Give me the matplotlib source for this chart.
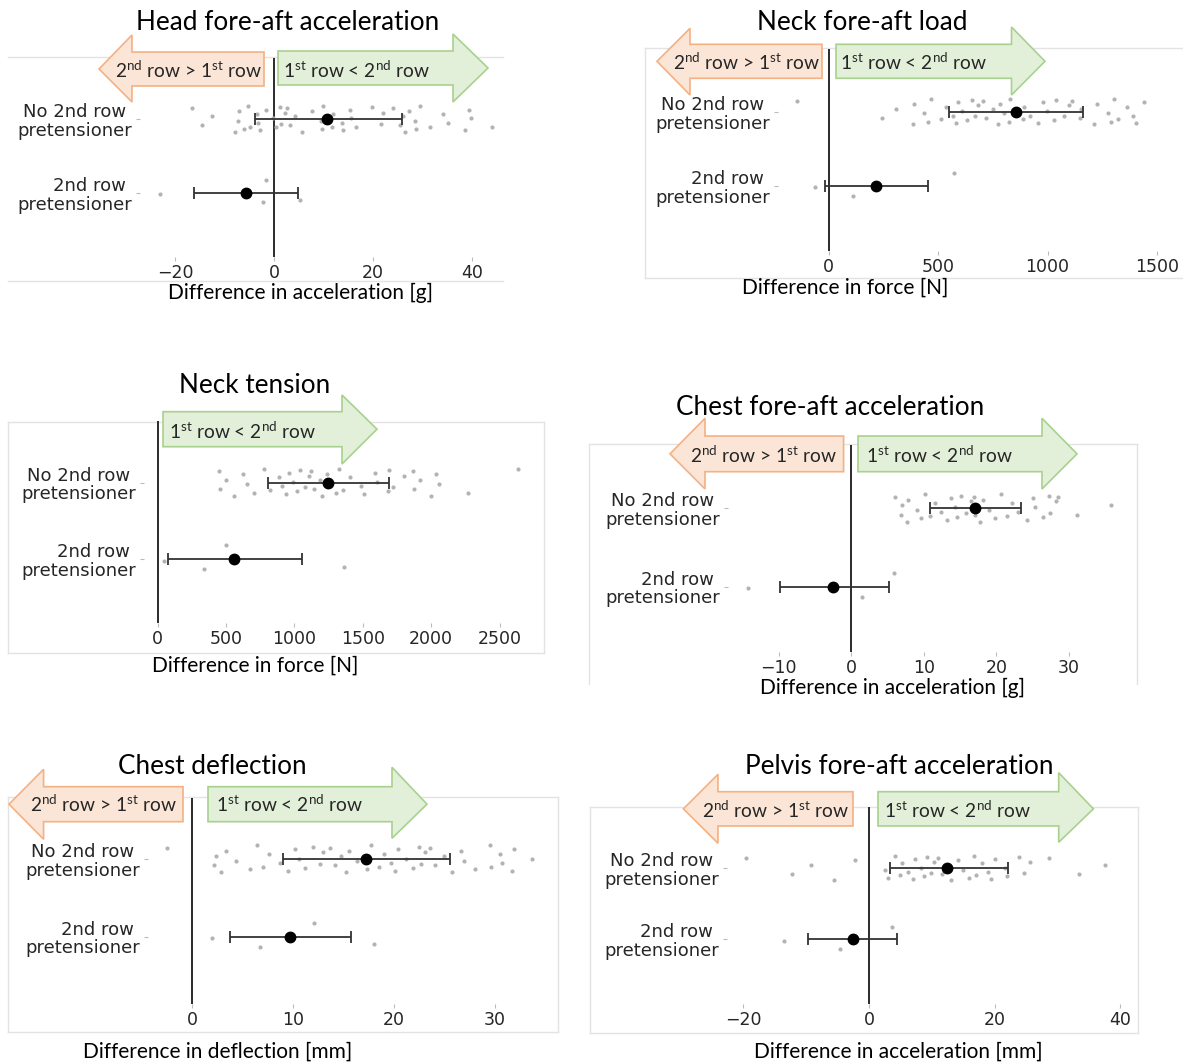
import numpy as np
import matplotlib.pyplot as plt
from matplotlib.patches import Polygon
from matplotlib.lines import Line2D

plt.rcParams['font.family'] = 'DejaVu Sans'
plt.rcParams['mathtext.fontset'] = 'custom'
plt.rcParams['mathtext.rm'] = 'Lato'
plt.rcParams['mathtext.it'] = 'Lato:italic'
plt.rcParams['mathtext.bf'] = 'Lato:bold'

W, H = 1183, 1064
groups = ['No 2nd row \npretensioner', '2nd row \npretensioner']

# head fore-aft acceleration [g]
head_no = [-16.6, -14.5, -12.5, -7.8, -7.1, -7.3, -6.0, -5.2, -4.8, -3.5, -3.3, -2.8,
           -1.7, -0.3, 0.4, 1.2, 1.5, 2.2, 2.7, 3.2, 4.2, 5.6, 7.7, 9.6, 9.8, 10.0,
           11.7, 12.0, 13.7, 14.0, 15.4, 15.5, 16.5, 19.9, 21.7, 22.0, 24.1, 25.5,
           26.1, 26.5, 27.3, 28.5, 28.7, 29.5, 31.5, 34.2, 35.2, 38.6, 39.4, 39.9, 44.0]
head_pre = [-23.0, -2.2, -1.6, 5.3]
head_mean = [10.7, -5.7]
head_ci = [(-3.9, 25.9), (-16.1, 4.9)]

# neck fore-aft load [N]
shear_no = [-146, 246, 309, 388, 390, 436, 456, 467, 515, 538, 570, 580, 591, 610, 633,
            657, 670, 681, 705, 720, 752, 775, 784, 800, 826, 831, 886, 893, 918, 957,
            981, 997, 1030, 1037, 1076, 1100, 1114, 1147, 1155, 1211, 1226, 1274, 1290,
            1305, 1321, 1365, 1392, 1403, 1440]
shear_pre = [-62, 112, 575]
shear_mean = [855, 217]
shear_ci = [(551, 1163), (-15, 456)]

# neck tension [N]
tens_no = [446, 454, 499, 559, 624, 650, 702, 781, 820, 885, 911, 937, 963, 990, 1016,
           1042, 1081, 1107, 1120, 1146, 1185, 1198, 1237, 1264, 1303, 1329, 1355, 1407,
           1485, 1511, 1590, 1603, 1681, 1690, 1721, 1799, 1864, 1877, 1916, 1995, 2034,
           2055, 2269, 2634]
tens_pre = [44, 337, 499, 1360]
tens_mean = [1245, 559]
tens_ci = [(807, 1694), (76, 1055)]

# chest fore-aft acceleration [g]
chest_no = [6.0, 6.9, 7.0, 7.7, 7.8, 9.0, 9.6, 10.1, 10.9, 11.6, 12.4, 13.2, 13.7, 14.3,
            14.5, 15.1, 15.8, 16.5, 16.9, 17.0, 17.2, 17.7, 18.2, 19.0, 19.8, 20.6, 21.4,
            22.2, 23.0, 24.2, 25.0, 25.3, 26.4, 27.2, 27.4, 28.2, 28.5, 31.1, 35.8]
chest_pre = [-14.2, 1.5, 5.9]
chest_mean = [17.0, -2.5]
chest_ci = [(10.9, 23.4), (-9.9, 5.2)]

# chest deflection [mm]
defl_no = [-2.5, 2.2, 2.4, 2.9, 3.4, 4.4, 5.7, 6.4, 7.0, 7.6, 8.7, 9.5, 10.2, 10.6, 11.2,
           12.0, 12.7, 13.0, 13.7, 14.2, 14.8, 15.3, 15.6, 16.4, 17.4, 17.7, 18.5, 19.0,
           19.7, 20.1, 20.4, 21.2, 21.9, 22.5, 22.7, 23.1, 23.6, 24.1, 25.0, 25.8, 26.7,
           27.0, 28.1, 29.6, 29.7, 30.5, 30.7, 31.7, 31.9, 33.7]
defl_pre = [2.0, 6.7, 12.1, 18.0]
defl_mean = [17.3, 9.7]
defl_ci = [(9.0, 25.6), (3.8, 15.8)]

# pelvis fore-aft acceleration
pelv_no = [-19.5, -12.2, -9.3, -5.5, -2.2, 2.5, 3.1, 4.2, 5.0, 5.3, 6.2, 7.0, 7.4, 8.2,
           8.8, 9.2, 9.8, 10.4, 11.0, 11.6, 12.2, 13.0, 14.1, 15.0, 15.9, 16.7, 17.1,
           18.0, 18.9, 19.4, 20.1, 21.7, 22.0, 23.8, 24.7, 25.6, 28.6, 33.5, 37.5]
pelv_pre = [-13.6, -4.6, 3.7]
pelv_mean = [12.4, -2.6]
pelv_ci = [(3.3, 22.1), (-9.7, 4.5)]

left_txt = r'2$^{\rm nd}$ row > 1$^{\rm st}$ row'
right_txt = r'1$^{\rm st}$ row < 2$^{\rm nd}$ row'

# strip jitter pattern (vertical spread of the raw points)
jitter = np.array([-0.15, 0.08, -0.04, 0.17, -0.11, 0.02, 0.13, -0.18, 0.10, -0.07,
                   0.05, 0.15, -0.13, -0.01, 0.11, -0.16, 0.06, -0.09])

fig = plt.figure(figsize=(W / 100, H / 100), dpi=100)


def fxy(x, y):
    return x / W, 1 - y / H


def frame(x0, x1, y0, y1, sides):
    segs = {'t': ([x0, x1], [y0, y0]), 'b': ([x0, x1], [y1, y1]),
            'l': ([x0, x0], [y0, y1]), 'r': ([x1, x1], [y0, y1])}
    for s in sides:
        xs, ys = segs[s]
        fig.add_artist(Line2D([x / W for x in xs], [1 - y / H for y in ys],
                              transform=fig.transFigure, color='#e3e3e3', lw=1, zorder=0))


def arrow(tail, base, tip, body, head, text, tx, ty, kind):
    ym = (body[0] + body[1]) / 2
    pts = [(tip, ym), (base, head[0]), (base, body[0]), (tail, body[0]),
           (tail, body[1]), (base, body[1]), (base, head[1])]
    if kind == 'L':
        fc, ec = '#fbe5d6', '#f4b183'
    else:
        fc, ec = '#e2f0d9', '#a9d18e'
    fig.add_artist(Polygon([fxy(x, y) for x, y in pts], closed=True,
                           transform=fig.transFigure, fc=fc, ec=ec, lw=1.2, zorder=4))
    fig.text(*fxy(tx, ty), text, ha='center', va='center', fontsize=13.8,
             family='Lato', color='#262626', zorder=5)


def panel(box, xlim, ylim, ticks, no_pts, pre_pts, means, cis):
    x0, y0, x1, y1 = box
    ax = fig.add_axes([x0 / W, 1 - y1 / H, (x1 - x0) / W, (y1 - y0) / H])
    ax.set_facecolor('none')
    for s in ax.spines.values():
        s.set_visible(False)
    ax.axvline(0, color='#2b2b2b', lw=1.4, zorder=1)
    for i, vals in enumerate([no_pts, pre_pts]):
        yy = i + np.resize(jitter[i * 5:], len(vals))
        ax.scatter(vals, yy, s=9, color='#b3b3b3', linewidths=0, zorder=2)
        lo, hi = cis[i]
        ax.errorbar(means[i], i, xerr=[[means[i] - lo], [hi - means[i]]], fmt='o',
                    color='black', ms=7.5, ecolor='#333333', elinewidth=1.3,
                    capsize=4.5, capthick=1.3, zorder=3)
    ax.set_xticks(ticks)
    ax.set_yticks([0, 1], groups)
    ax.set_xlim(*xlim)
    ax.set_ylim(*ylim)
    ax.tick_params(axis='x', length=3, color='#bbbbbb', pad=2, labelsize=12.5,
                   labelcolor='#262626')
    ax.tick_params(axis='y', length=3, color='#bbbbbb', pad=3, labelsize=13,
                   labelcolor='#262626')
    for t in ax.get_yticklabels():
        t.set_linespacing(1.05)
    return ax


def title(x, y, s):
    fig.text(*fxy(x, y), s, ha='center', va='center', fontsize=18.8, family='Lato')


def xlabel(x, y, s):
    fig.text(*fxy(x, y), s, ha='center', va='center', fontsize=15, family='Lato')


# Head fore-aft acceleration
frame(8, 503, 57, 281, 'tb')
panel((140, 58, 500, 257), (-27.1, 45.7), (1.87, -0.83), [-20, 0, 20, 40],
      head_no, head_pre, head_mean, head_ci)
title(288, 23, 'Head fore-aft acceleration')
xlabel(300, 293, 'Difference in acceleration [g]')
arrow(264, 132, 99, (52, 86), (35, 102), left_txt, 189, 70, 'L')
arrow(278, 453, 488, (51, 85), (34, 102), right_txt, 357, 70, 'R')

# Neck fore-aft load
frame(644.5, 1190, 48.3, 277.7, 'tlb')
panel((778, 49, 1183, 251), (-230.6, 1618.7), (1.88, -0.85), [0, 500, 1000, 1500],
      shear_no, shear_pre, shear_mean, shear_ci)
title(862, 23, 'Neck fore-aft load')
xlabel(845, 288, 'Difference in force [N]')
arrow(822, 690, 657, (44.3, 78.3), (28.3, 95), left_txt, 747, 62, 'L')
arrow(836, 1011.5, 1045, (44.3, 78.3), (27, 95), right_txt, 914, 62, 'R')

# Neck tension
frame(8, 543.6, 421.7, 652.7, 'tlbr')
panel((144, 421, 540, 623), (-99.4, 2795), (1.832, -0.805),
      [0, 500, 1000, 1500, 2000, 2500], tens_no, tens_pre, tens_mean, tens_ci)
title(255, 385, 'Neck tension')
xlabel(255, 666, 'Difference in force [N]')
arrow(163, 342, 377, (411.7, 446.7), (395, 464), right_txt, 243, 431, 'R')

# Chest fore-aft acceleration
frame(588.8, 1137.3, 444, 684, 'tlr')
panel((728, 445, 1135, 652), (-17.0, 39.1), (1.833, -0.807), [-10, 0, 10, 20, 30],
      chest_no, chest_pre, chest_mean, chest_ci)
title(830, 408, 'Chest fore-aft acceleration')
xlabel(892, 688, 'Difference in acceleration [g]')
arrow(843.6, 705, 670, (436, 471.7), (418.3, 489), left_txt, 764, 455, 'L')
arrow(858, 1042, 1077, (436, 471.7), (418.3, 489), right_txt, 940, 455, 'R')

# Chest deflection
frame(8, 558, 796.7, 1031.7, 'tlbr')
panel((148, 798, 556, 1004), (-4.375, 36.1), (1.87, -0.792), [0, 10, 20, 30],
      defl_no, defl_pre, defl_mean, defl_ci)
title(212, 766, 'Chest deflection')
xlabel(218, 1052, 'Difference in deflection [mm]')
arrow(183, 43.6, 9, (786.7, 821.7), (769.3, 839.3), left_txt, 104, 804, 'L')
arrow(208, 392, 427, (786.7, 821.7), (767.3, 838.3), right_txt, 290, 804, 'R')

# Pelvis fore-aft acceleration
frame(590, 1138, 806.7, 1032.7, 'tlbr')
panel((727, 807, 1136, 1004), (-22.6, 42.5), (1.911, -0.863), [-20, 0, 20, 40],
      pelv_no, pelv_pre, pelv_mean, pelv_ci)
title(899, 766, 'Pelvis fore-aft acceleration')
xlabel(898, 1052, 'Difference in acceleration [mm]')
arrow(853, 718, 683.4, (791.7, 826), (774.3, 843.3), left_txt, 776, 810, 'L')
arrow(878, 1058.7, 1093.4, (791.7, 826), (772.7, 842.3), right_txt, 958, 810, 'R')

fig.savefig('out.png', dpi=100)
